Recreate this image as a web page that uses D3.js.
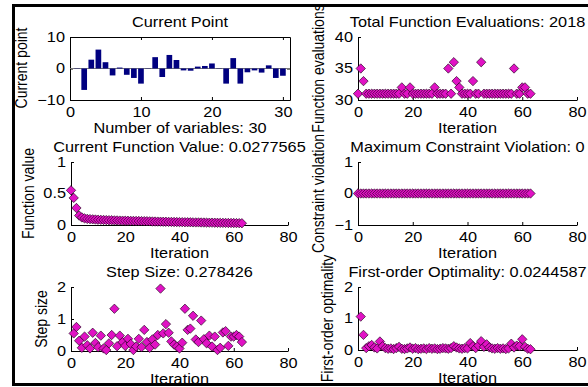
<!DOCTYPE html>
<html>
<head>
<meta charset="utf-8">
<script src="https://cdn.jsdelivr.net/npm/d3@7"></script>
<style>
  body { margin: 0; background: #fff; }
  svg { display: block; }
  text { font-family: "Liberation Sans", Arial, sans-serif; font-size: 14px; fill: #000; }
  .axis path, .axis line { stroke: #000; stroke-width: 1; }
  .axis text { font-size: 14px; }
</style>
</head>
<body>
<script>
// ---------------------------------------------------------------
//  DATA
// ---------------------------------------------------------------

// current point, variables 1..30
var currentPoint = [0.1, -6.8, 2.8, 6.0, 2.0, -2.2, 0.3, -2.0, -3.0, -4.8,
                    0.1, 3.6, -2.7, 4.3, 2.7, -0.6, -0.7, 0.6, 0.8, 1.6,
                    0.1, -4.8, 3.3, -4.8, -1.2, -0.6, -1.3, 1.0, -3.0, -2.3];

// function evaluations per iteration, iterations 0..63 (sum = 2018)
var funcEvals = [31, 35, 33, 31, 31, 31, 31, 31, 31, 31,
                 31, 31, 31, 31, 31, 31, 32, 31, 31, 32,
                 31, 31, 31, 31, 31, 31, 31, 31, 32, 31,
                 31, 31, 31, 35, 31, 36, 33, 32, 31, 31,
                 31, 31, 33, 31, 31, 36, 31, 31, 31, 31,
                 31, 31, 31, 31, 31, 31, 31, 35, 31, 31,
                 32, 32, 31, 31];

// function value, iterations 0..63
var funcValue = [0.55, 0.43, 0.27, 0.15, 0.12, 0.105, 0.097, 0.093, 0.09, 0.087,
                 0.084, 0.082, 0.080, 0.078, 0.076, 0.075, 0.073, 0.072, 0.070, 0.069,
                 0.068, 0.067, 0.066, 0.065, 0.064, 0.063, 0.062, 0.061, 0.060, 0.058,
                 0.056, 0.055, 0.054, 0.053, 0.052, 0.051, 0.050, 0.049, 0.048, 0.047,
                 0.046, 0.045, 0.044, 0.044, 0.043, 0.042, 0.041, 0.041, 0.040, 0.039,
                 0.038, 0.037, 0.037, 0.036, 0.035, 0.034, 0.034, 0.033, 0.032, 0.032,
                 0.031, 0.030, 0.029, 0.0277565];

// max constraint violation, iterations 0..63
var constrViol = [0, 0, 0, 0, 0, 0, 0, 0, 0, 0,
                  0, 0, 0, 0, 0, 0, 0, 0, 0, 0,
                  0, 0, 0, 0, 0, 0, 0, 0, 0, 0,
                  0, 0, 0, 0, 0, 0, 0, 0, 0, 0,
                  0, 0, 0, 0, 0, 0, 0, 0, 0, 0,
                  0, 0, 0, 0, 0, 0, 0, 0, 0, 0,
                  0, 0, 0, 0];

// step size, iterations 1..63
var stepSize = [0.55, 0.75, 0.32, 0.10, 0.45, 0.18, 0.08, 0.57, 0.25, 0.12,
                0.48, 0.08, 0.03, 0.24, 0.50, 1.32, 0.15, 0.48, 0.28, 0.16,
                0.38, 0.22, 0.03, 0.14, 0.38, 0.12, 0.66, 0.28, 0.10, 0.36,
                0.20, 0.50, 1.95, 0.55, 0.84, 0.57, 0.30, 0.20, 0.14, 0.08,
                0.26, 1.32, 0.66, 0.70, 1.10, 0.36, 0.28, 0.95, 0.37, 0.24,
                0.48, 0.14, 0.45, 0.03, 0.10, 0.58, 0.62, 0.16, 0.45, 0.45,
                0.50, 0.45, 0.278426];

// first-order optimality, iterations 1..63
var optimality = [1.06, 0.48, 0.06, 0.12, 0.16, 0.08, 0.05, 0.27, 0.12, 0.06,
                  0.04, 0.05, 0.03, 0.06, 0.10, 0.04, 0.03, 0.05, 0.08, 0.04,
                  0.06, 0.03, 0.04, 0.05, 0.03, 0.06, 0.04, 0.05, 0.03, 0.04,
                  0.06, 0.05, 0.04, 0.06, 0.12, 0.08, 0.05, 0.04, 0.06, 0.05,
                  0.22, 0.12, 0.06, 0.14, 0.28, 0.10, 0.18, 0.08, 0.05, 0.04,
                  0.06, 0.04, 0.05, 0.03, 0.05, 0.20, 0.08, 0.14, 0.12, 0.34,
                  0.10, 0.04, 0.0244587];

// tick labels
var iterTicks = [0, 20, 40, 60, 80];
var varTicks = [0, 10, 20, 30];
var pointTicks = [-10, 0, 10];
var evalTicks = [30, 35, 40];
var fvalTicks = [0, 0.5, 1];
var violTicks = [-1, 0, 1];
var twoTicks = [0, 1, 2];

// ---------------------------------------------------------------
//  SVG
// ---------------------------------------------------------------
var width = 588, height = 387;
var stretch = 1.165;   // the window is drawn a bit wider than tall

var svg = d3.select("body")
    .append("svg")
    .attr("width", width)
    .attr("height", height);

// figure frame
svg.append("rect")
    .attr("x", 13.5).attr("y", 5.5)
    .attr("width", 620).attr("height", 379)
    .attr("fill", "none")
    .attr("stroke", "#000")
    .attr("stroke-width", 3);

var fmt = d3.format("~g");
var markerColor = "#e012c4";

var leftCol = {x0: 71, x1: 288}, rightCol = {x0: 358, x1: 577};

// text helper, horizontal or rotated
function label(x, y, str, rotated) {
    var t = "translate(" + x + "," + y + ")" +
            (rotated ? " rotate(-90) scale(1," + stretch + ")" : " scale(" + stretch + ",1)");
    svg.append("text")
        .attr("transform", t)
        .attr("dy", "0.35em")
        .attr("text-anchor", "middle")
        .text(str);
}

function stretchTicks(g) {
    g.selectAll("text").attr("transform", "scale(" + stretch + ",1)");
}

// ---------------------------------------------------------------
//  PANEL 1 : Current Point (bar chart)
// ---------------------------------------------------------------
(function() {
    var x = d3.scaleLinear().domain([0, 31]).range([70, 290]);
    var y = d3.scaleLinear().domain([-10, 10]).range([100, 37]);

    svg.append("g").attr("class", "axis")
        .attr("transform", "translate(0,100)")
        .call(d3.axisBottom(x).tickValues(varTicks).tickFormat(fmt)
              .tickSizeInner(-3).tickSizeOuter(0).tickPadding(7))
        .call(stretchTicks);
    svg.append("g").attr("class", "axis")
        .attr("transform", "translate(0,37)")
        .call(d3.axisTop(x).tickValues(varTicks).tickFormat("")
              .tickSizeInner(-3).tickSizeOuter(0));
    svg.append("g").attr("class", "axis")
        .attr("transform", "translate(70,0)")
        .call(d3.axisLeft(y).tickValues(pointTicks).tickFormat(fmt)
              .tickSizeInner(-3).tickSizeOuter(0).tickPadding(4.3))
        .call(stretchTicks);
    svg.append("g").attr("class", "axis")
        .attr("transform", "translate(290,0)")
        .call(d3.axisRight(y).tickValues(pointTicks).tickFormat("")
              .tickSizeInner(-3).tickSizeOuter(0));

    // baseline
    svg.append("line")
        .attr("x1", x(0)).attr("x2", x(31))
        .attr("y1", y(0)).attr("y2", y(0))
        .attr("stroke", "#777").attr("stroke-width", 1);

    var bw = (x(1) - x(0)) * 0.8;
    svg.selectAll("rect.bar")
        .data(currentPoint)
        .join("rect")
            .attr("class", "bar")
            .attr("x", function(d, i) { return x(i + 1) - bw / 2; })
            .attr("y", function(d) { return y(Math.max(d, 0)); })
            .attr("width", bw)
            .attr("height", function(d) { return Math.abs(y(d) - y(0)); })
            .attr("fill", "#000080");

    label(180, 22, "Current Point");
    label(180, 128, "Number of variables: 30");
    label(21, 68, "Current point", true);
})();

// ---------------------------------------------------------------
//  SCATTER PANELS
// ---------------------------------------------------------------
function scatterPanel(opt) {
    var x = d3.scaleLinear().domain([0, 80]).range([opt.col.x0, opt.col.x1]);
    var y = d3.scaleLinear().domain(opt.domain).range([opt.bottom, opt.top]);

    svg.append("g").attr("class", "axis")
        .attr("transform", "translate(0," + opt.bottom + ")")
        .call(d3.axisBottom(x).tickValues(iterTicks).tickFormat(fmt)
              .tickSizeInner(-3).tickSizeOuter(0).tickPadding(7))
        .call(stretchTicks);
    svg.append("g").attr("class", "axis")
        .attr("transform", "translate(" + opt.col.x0 + ",0)")
        .call(d3.axisLeft(y).tickValues(opt.ticks).tickFormat(fmt)
              .tickSizeInner(-3).tickSizeOuter(0).tickPadding(4.3))
        .call(stretchTicks);

    svg.append("g").selectAll("path")
        .data(opt.values)
        .join("path")
            .attr("d", d3.symbol(d3.symbolSquare, 44))
            .attr("transform", function(d, i) {
                return "translate(" + x(i + opt.start) + "," + y(d) + ") rotate(45)";
            })
            .attr("fill", markerColor)
            .attr("stroke", "#1a0016")
            .attr("stroke-width", 0.6);

    var cx = (opt.col.x0 + opt.col.x1) / 2;
    label(cx, opt.top - 15, opt.title);
    label(cx, opt.bottom + 28, "Iteration");
    label(opt.labelX, (opt.top + opt.bottom) / 2, opt.ylabel, true);
}

scatterPanel({col: rightCol, top: 37, bottom: 100, domain: [30, 40], ticks: evalTicks,
              values: funcEvals, start: 0, labelX: 318,
              title: "Total Function Evaluations: 2018", ylabel: "Function evaluations"});

scatterPanel({col: leftCol, top: 162, bottom: 225, domain: [0, 1], ticks: fvalTicks,
              values: funcValue, start: 0, labelX: 28,
              title: "Current Function Value: 0.0277565", ylabel: "Function value"});

scatterPanel({col: rightCol, top: 162, bottom: 225, domain: [-1, 1], ticks: violTicks,
              values: constrViol, start: 0, labelX: 318,
              title: "Maximum Constraint Violation: 0", ylabel: "Constraint violation"});

scatterPanel({col: leftCol, top: 287, bottom: 351, domain: [0, 2], ticks: twoTicks,
              values: stepSize, start: 1, labelX: 41,
              title: "Step Size: 0.278426", ylabel: "Step size"});

scatterPanel({col: rightCol, top: 287, bottom: 350, domain: [0, 2], ticks: twoTicks,
              values: optimality, start: 1, labelX: 327,
              title: "First-order Optimality: 0.0244587", ylabel: "First-order optimality"});
</script>
</body>
</html>
